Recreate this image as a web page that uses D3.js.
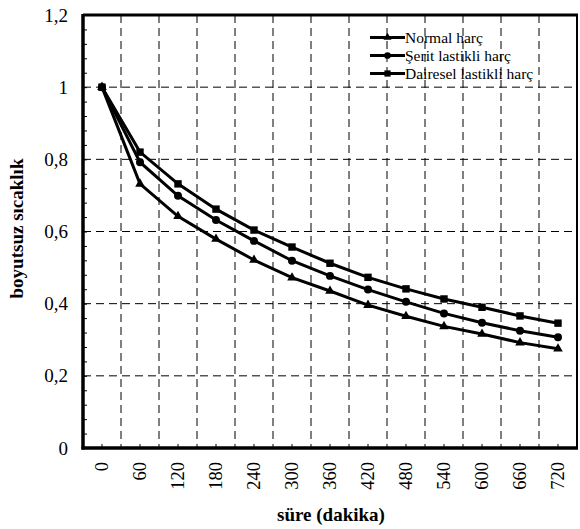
<!DOCTYPE html>
<html>
<head>
<meta charset="utf-8">
<script src="https://cdn.jsdelivr.net/npm/d3@7"></script>
<style>
  body { margin: 0; background: #fff; }
</style>
</head>
<body>
<div id="chart"></div>
<script>
const minutes = [0, 60, 120, 180, 240, 300, 360, 420, 480, 540, 600, 660, 720];
const normalHarc = [1, 0.732, 0.642, 0.579, 0.521, 0.472, 0.435, 0.396, 0.365, 0.337, 0.316, 0.292, 0.275];
const seritHarc = [1, 0.792, 0.699, 0.632, 0.574, 0.519, 0.477, 0.439, 0.405, 0.373, 0.347, 0.325, 0.307];
const daireselHarc = [1, 0.82, 0.732, 0.662, 0.604, 0.557, 0.512, 0.473, 0.441, 0.413, 0.39, 0.366, 0.346];
const seriesNames = ['Normal harç', 'Şerit lastikli harç', 'Dairesel lastikli harç'];
const yTicks = [0, 0.2, 0.4, 0.6, 0.8, 1, 1.2];

const WIDTH = 580, HEIGHT = 529;
const MARGIN = { top: 15, right: 3, bottom: 81, left: 83 };
const INNER_W = WIDTH - MARGIN.left - MARGIN.right,
  INNER_H = HEIGHT - MARGIN.top - MARGIN.bottom;
const FONT = "'Liberation Serif', 'Times New Roman', 'DejaVu Serif', serif";

const series = [
  { name: seriesNames[0], values: normalHarc, symbol: d3.symbolTriangle, size: 40 },
  { name: seriesNames[1], values: seritHarc, symbol: d3.symbolCircle, size: 50 },
  { name: seriesNames[2], values: daireselHarc, symbol: d3.symbolSquare, size: 55 }
];

const x = d3.scaleBand().domain(minutes).range([0, INNER_W]);
const y = d3.scaleLinear().domain([0, 1.2]).range([INNER_H, 0]);
const cx = m => x(m) + x.bandwidth() / 2;

const svg = d3.select('#chart').append('svg')
  .attr('width', WIDTH)
  .attr('height', HEIGHT)
  .attr('font-family', FONT);
const g = svg.append('g').attr('transform', `translate(${MARGIN.left},${MARGIN.top})`);

// dashed grid: horizontal at major ticks, vertical at band edges
g.append('g').selectAll('line')
  .data(yTicks.filter(v => v > 0 && v < 1.2))
  .enter().append('line')
  .attr('x1', 0).attr('x2', INNER_W)
  .attr('y1', d => y(d)).attr('y2', d => y(d))
  .attr('stroke', '#000').attr('stroke-width', 1).attr('stroke-dasharray', '8,5');

g.append('g').selectAll('line')
  .data(minutes.slice(1))
  .enter().append('line')
  .attr('x1', d => x(d)).attr('x2', d => x(d))
  .attr('y1', 0).attr('y2', INNER_H)
  .attr('stroke', '#000').attr('stroke-width', 1).attr('stroke-dasharray', '8,5');

// minor ticks on y axis (inside)
const yAxis = d3.axisLeft(y).tickValues(d3.range(0, 1.2001, 0.04)).tickSize(-4).tickFormat('');
g.append('g').call(yAxis).call(s => s.select('.domain').remove())
  .selectAll('line').attr('stroke-width', 1);

g.append('g').selectAll('text')
  .data(yTicks)
  .enter().append('text')
  .attr('x', -15).attr('y', d => y(d))
  .attr('dy', '0.35em')
  .attr('text-anchor', 'end')
  .attr('font-family', FONT)
  .style('font-size', '19px')
  .text(d => d3.format('.1f')(d).replace('.', ',').replace(/,0$/, ''));

// x ticks (inside, at category centres)
g.append('g').selectAll('line')
  .data(minutes)
  .enter().append('line')
  .attr('x1', cx).attr('x2', cx)
  .attr('y1', INNER_H).attr('y2', INNER_H - 4)
  .attr('stroke', '#000');

g.append('g').selectAll('text')
  .data(minutes)
  .enter().append('text')
  .attr('transform', d => `translate(${cx(d)},${INNER_H + 14}) rotate(-90)`)
  .attr('dy', '0.35em')
  .attr('text-anchor', 'end')
  .attr('font-family', FONT)
  .style('font-size', '18.5px')
  .text(d => d);

// frame
g.append('rect')
  .attr('width', INNER_W).attr('height', INNER_H)
  .attr('fill', 'none').attr('stroke', '#000').attr('stroke-width', 2);
g.append('line').attr('x1', 0).attr('x2', 0).attr('y1', -1).attr('y2', INNER_H + 1.5)
  .attr('stroke', '#000').attr('stroke-width', 3.5);
g.append('line').attr('x1', -1.5).attr('x2', INNER_W + 1).attr('y1', INNER_H).attr('y2', INNER_H)
  .attr('stroke', '#000').attr('stroke-width', 3.5);
g.append('line').attr('x1', 0).attr('x2', INNER_W + 1).attr('y1', 0).attr('y2', 0)
  .attr('stroke', '#000').attr('stroke-width', 3);

// series
const line = d3.line().x((d, i) => cx(minutes[i])).y(d => y(d));
series.forEach(s => {
  g.append('path')
    .datum(s.values)
    .attr('d', line)
    .attr('fill', 'none').attr('stroke', '#000').attr('stroke-width', 3);
  g.append('g').selectAll('path')
    .data(s.values)
    .enter().append('path')
    .attr('transform', (d, i) => `translate(${cx(minutes[i])},${y(d)})`)
    .attr('d', d3.symbol().type(s.symbol).size(s.size))
    .attr('fill', '#000');
});

// legend
const legend = g.append('g').attr('transform', 'translate(287, 22.5)');
series.forEach((s, i) => {
  const row = legend.append('g').attr('transform', `translate(0, ${i * 18})`);
  row.append('line').attr('x1', 0).attr('x2', 35).attr('y1', 0).attr('y2', 0)
    .attr('stroke', '#000').attr('stroke-width', 3);
  row.append('path').attr('transform', 'translate(17.5,0)')
    .attr('d', d3.symbol().type(s.symbol).size(s.size * 0.7)).attr('fill', '#000');
  row.append('text').attr('x', 35).attr('y', 5.5)
    .attr('font-family', FONT)
    .style('font-size', '15.5px').text(s.name);
});

// axis titles
svg.append('text')
  .attr('x', 331).attr('y', 521)
  .attr('text-anchor', 'middle')
  .attr('font-family', FONT)
  .style('font-size', '19px').style('font-weight', 'bold')
  .text('süre (dakika)');

svg.append('text')
  .attr('transform', `translate(23, ${MARGIN.top + INNER_H / 2 - 3}) rotate(-90)`)
  .attr('text-anchor', 'middle')
  .attr('font-family', FONT)
  .style('font-size', '19px').style('font-weight', 'bold')
  .text('boyutsuz sıcaklık');
</script>
</body>
</html>
